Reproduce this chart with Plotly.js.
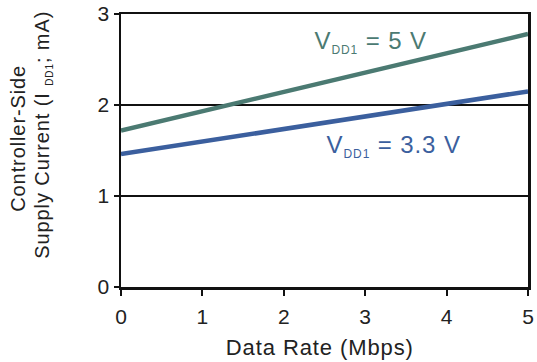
<!DOCTYPE html>
<html><head><meta charset="utf-8">
<script src="https://cdn.plot.ly/plotly-3.0.1.min.js"></script>
<style>
html,body{margin:0;padding:0;background:#fff}
#chart svg .annotation-text{letter-spacing:0.9px}
</style>
</head><body>
<div id="chart" style="width:537px;height:362px"></div>
<script>
var dataRate = [0, 5];
var current5V = [1.72, 2.78];
var current33V = [1.46, 2.15];
var xTicks = [0, 1, 2, 3, 4, 5];
var yTicks = [0, 1, 2, 3];
var label5V = 'V<sub><span style="font-size:12px">DD1</span></sub> = 5 V';
var label33V = 'V<sub><span style="font-size:12px">DD1</span></sub> = 3.3 V';
var xTitle = 'Data Rate (Mbps)';
var yTitle1 = 'Controller-Side';
var yTitle2 = 'Supply Current (I <sub><span style="font-size:10px">DD1</span></sub>; mA)';

var c5 = '#4b7a72', c33 = '#3b5f9e';
var ff = 'Liberation Sans, Arial, sans-serif';
var traces = [
  {x: dataRate, y: current5V, mode: 'lines', line: {color: c5, width: 4.5}, hoverinfo: 'none'},
  {x: dataRate, y: current33V, mode: 'lines', line: {color: c33, width: 4.5}, hoverinfo: 'none'}
];
var tf = {size: 21, family: ff, color: '#222'};
var layout = {
  width: 537, height: 362,
  margin: {l: 121, r: 9, t: 14, b: 75},
  paper_bgcolor: '#fff', plot_bgcolor: '#fff',
  showlegend: false,
  font: {family: ff, color: '#222'},
  xaxis: {
    range: [0, 5], tickvals: xTicks, ticktext: xTicks.map(String),
    showgrid: false, zeroline: false,
    showline: true, linecolor: '#111', linewidth: 2.5, mirror: true,
    ticks: 'outside', ticklen: 6, tickwidth: 2, tickcolor: '#111',
    ticklabelstandoff: 3,
    tickfont: tf
  },
  yaxis: {
    range: [0, 3], tickvals: yTicks, ticktext: yTicks.map(String),
    showgrid: true, gridcolor: '#111', gridwidth: 2, zeroline: false,
    showline: true, linecolor: '#111', linewidth: 2.5, mirror: true,
    ticks: 'outside', ticklen: 5, tickwidth: 2, tickcolor: '#111',
    tickfont: tf
  },
  annotations: [
    {x: 2.41, y: 2.69, xref: 'x', yref: 'y', xanchor: 'left', yanchor: 'middle', text: label5V, showarrow: false, font: {size: 24, family: ff, color: c5}},
    {x: 2.57, y: 1.55, xref: 'x', yref: 'y', xanchor: 'left', yanchor: 'middle', text: label33V, showarrow: false, font: {size: 24, family: ff, color: c33}},
    {x: (320 - 121) / 407, y: (287 - 347) / 273, xref: 'paper', yref: 'paper', xanchor: 'center', yanchor: 'middle', text: xTitle, showarrow: false, font: {size: 22, family: ff, color: '#222'}},
    {x: (18 - 121) / 407, y: (287 - 139) / 273, xref: 'paper', yref: 'paper', xanchor: 'center', yanchor: 'middle', textangle: -90, text: yTitle1, showarrow: false, font: {size: 20, family: ff, color: '#222'}},
    {x: (43 - 121) / 407, y: (287 - 135) / 273, xref: 'paper', yref: 'paper', xanchor: 'center', yanchor: 'middle', textangle: -90, text: yTitle2, showarrow: false, font: {size: 20, family: ff, color: '#222'}}
  ]
};
Plotly.newPlot('chart', traces, layout, {staticPlot: true, displayModeBar: false});
</script>
</body></html>
